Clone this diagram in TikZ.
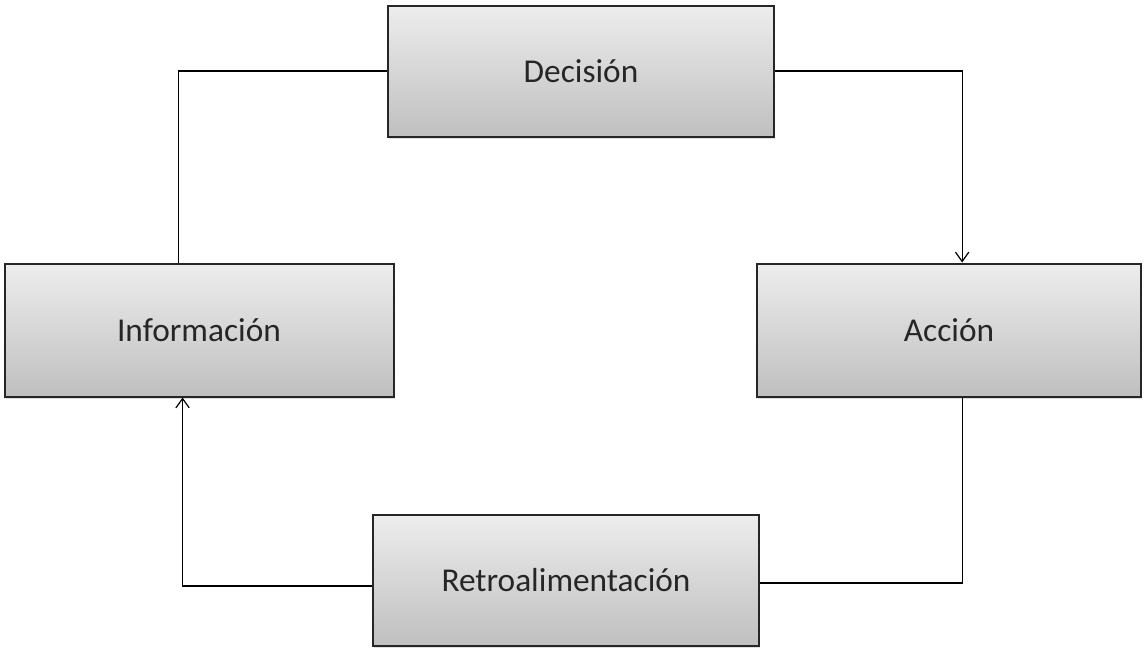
\documentclass[tikz,border=0pt]{standalone}
\usepackage{fontspec}
\setmainfont{Carlito}
\usetikzlibrary{arrows.meta,shadows,calc}
\begin{document}
\begin{tikzpicture}[x=0.75pt,y=-0.75pt,
  box/.style={draw=black!85,line width=1.5pt,top color=black!7,bottom color=black!25,
    rectangle,inner sep=0pt,font=\fontsize{25}{30}\selectfont,text=black!85,
    drop shadow={shadow xshift=1pt,shadow yshift=-1.5pt,opacity=0.25}},
  conn/.style={draw=black,line width=0.9pt},
  arr/.style={conn,-{Straight Barb[length=7pt,width=10pt,line width=0.9pt]}}]
\useasboundingbox (0,0) rectangle (1144,651);
\node[box,minimum width=386*0.75pt,minimum height=131*0.75pt] (dec) at (581,71) {Decisión};
\node[box,minimum width=389*0.75pt,minimum height=133*0.75pt] (inf) at (199,330) {Información};
\node[box,minimum width=384*0.75pt,minimum height=133*0.75pt] (acc) at (949,330) {Acción};
\node[box,minimum width=386*0.75pt,minimum height=131*0.75pt] (ret) at (566,580) {Retroalimentación};
\draw[conn] (dec.west) -| ($(inf.north west)!0.448!(inf.north east)$);
\draw[arr] (dec.east) -| ($(acc.north west)!0.534!(acc.north east)$);
\draw[conn] ($(acc.south west)!0.534!(acc.south east)$) |- ($(ret.east)+(0,3)$);
\draw[arr] ($(ret.west)+(0,6)$) -| ($(inf.south west)!0.458!(inf.south east)$);
\end{tikzpicture}
\end{document}
